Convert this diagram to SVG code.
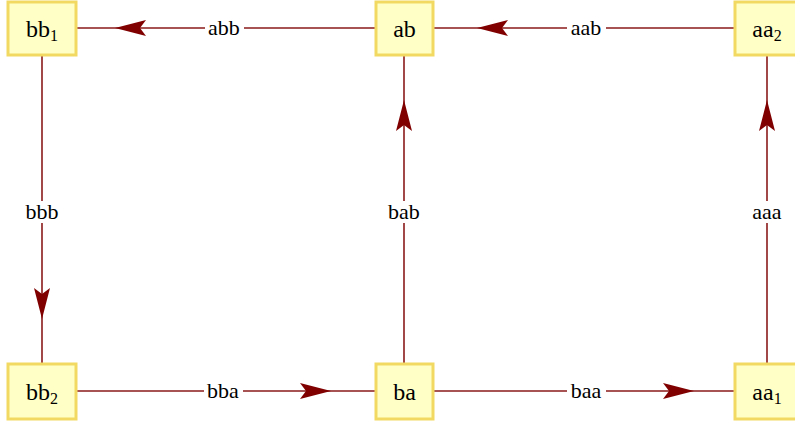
<svg xmlns="http://www.w3.org/2000/svg" width="795" height="424" viewBox="0 0 795 424">
<defs>
<style>
.node rect{fill:#ffffc6;stroke:#f2da62;stroke-width:3}
.edge{stroke:#8b1a1a;stroke-width:1.6;fill:none}
.lbl rect{fill:#fff}
.ah{fill:#800000}
text{font-family:'Liberation Serif',serif}
.lbl text{font-size:22px}
.node text{font-size:24px}
</style>
</defs>
<rect width="795" height="424" fill="#fff"/>
<g id="connectors">
<path class="edge" d="M76 28H376"/>
<path class="edge" d="M433 28H735"/>
<path class="edge" d="M42 55V363"/>
<path class="edge" d="M404 55V363"/>
<path class="edge" d="M767 55V363"/>
<path class="edge" d="M76 391H376"/>
<path class="edge" d="M433 391H735"/>
<path class="ah" d="M115 28L146 20L140 28L146 36Z"/>
<path class="ah" d="M477 28L508 20L502 28L508 36Z"/>
<path class="ah" d="M42 319L34 288L42 294L50 288Z"/>
<path class="ah" d="M404 100L396 131L404 125L412 131Z"/>
<path class="ah" d="M767 100L759 131L767 125L775 131Z"/>
<path class="ah" d="M331 391L300 383L306 391L300 399Z"/>
<path class="ah" d="M694 391L663 383L669 391L663 399Z"/>
<g class="lbl" text-anchor="middle" fill="#000">
<rect x="205" y="17" width="39" height="22"/><text x="224" y="35">abb</text>
<rect x="567" y="17" width="39" height="22"/><text x="586" y="35">aab</text>
<rect x="21" y="201" width="42" height="22"/><text x="42" y="219">bbb</text>
<rect x="383" y="201" width="42" height="22"/><text x="404" y="219">bab</text>
<rect x="747" y="201" width="40" height="22"/><text x="767" y="219">aaa</text>
<rect x="204" y="380" width="39" height="22"/><text x="223" y="398">bba</text>
<rect x="567" y="380" width="39" height="22"/><text x="586" y="398">baa</text>
</g>
</g>
<g text-anchor="middle" fill="#000">
<g id="bb1" class="node"><rect x="8" y="2" width="68" height="53"/><text x="42" y="37">bb<tspan font-size="16" dy="4">1</tspan></text></g>
<g id="ab" class="node"><rect x="376" y="2" width="57" height="53"/><text x="404.5" y="37">ab</text></g>
<g id="aa2" class="node"><rect x="735" y="2" width="64" height="53"/><text x="767" y="37">aa<tspan font-size="16" dy="4">2</tspan></text></g>
<g id="bb2" class="node"><rect x="8" y="364" width="68" height="55"/><text x="42" y="400">bb<tspan font-size="16" dy="4">2</tspan></text></g>
<g id="ba" class="node"><rect x="376" y="364" width="57" height="55"/><text x="404.5" y="400">ba</text></g>
<g id="aa1" class="node"><rect x="735" y="364" width="64" height="55"/><text x="767" y="400">aa<tspan font-size="16" dy="4">1</tspan></text></g>
</g>
</svg>
